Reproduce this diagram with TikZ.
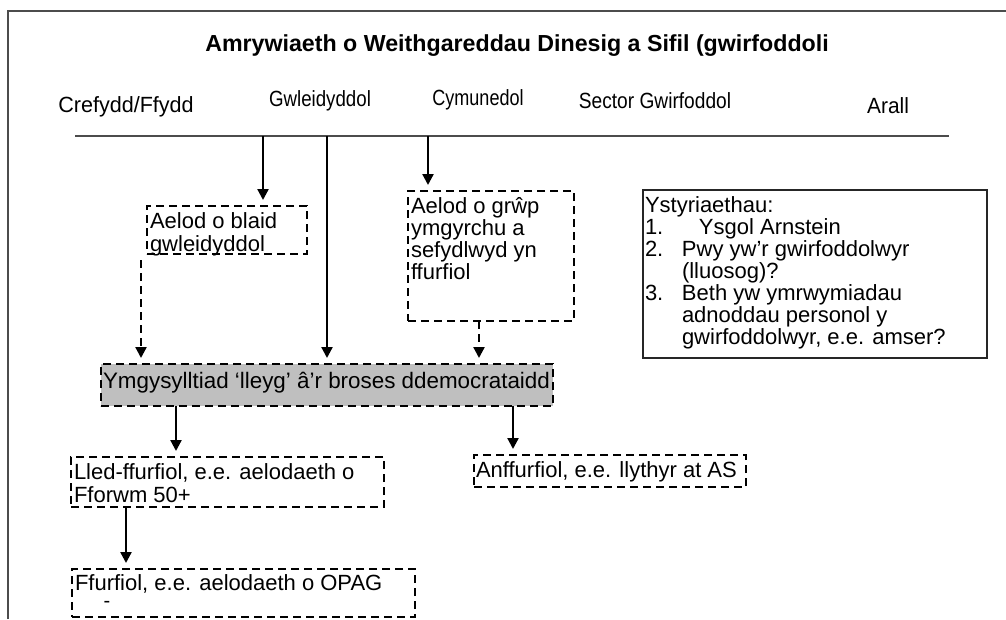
\documentclass[tikz,border=0pt]{standalone}
\usepackage{fontspec}
\usepackage{graphicx}
\setmainfont{Liberation Sans}
\usetikzlibrary{arrows.meta}
\begin{document}
\begin{tikzpicture}[x=1pt,y=-1pt,
  frameline/.style={draw=black!70, line width=2pt},
  txt/.style={font=\fontsize{22}{22.3}\selectfont, inner sep=0pt, outer sep=0pt, anchor=north west, align=left},
  cat/.style={font=\fontsize{22}{22}\selectfont, inner sep=0pt},
  dbox/.style={draw, line width=2.3pt, dash pattern=on 8pt off 5pt, inner sep=0pt, outer sep=0pt, anchor=north west},
  sbox/.style={draw=black!85, line width=1.8pt, inner sep=0pt, outer sep=0pt, anchor=north west},
  arr/.style={line width=2.3pt, -{Triangle[length=11pt,width=11pt]}, shorten >=6pt},
  darr/.style={arr, dash pattern=on 8pt off 5pt}
]
\useasboundingbox (0,0) rectangle (1006,619);
% outer frame
\coordinate (F1) at (8,619);
\coordinate (F2) at (8,11);
\coordinate (F3) at (1006,11);
\draw[frameline] (F1) -- (F2) -- (F3);
% title
\node[font=\bfseries\fontsize{23.2}{25}\selectfont, inner sep=0pt] (title) at (517,46) {Amrywiaeth o Weithgareddau Dinesig a Sifil (gwirfoddoli};
% categories
\node[cat] (c1) at (126,107) {\scalebox{0.98}[1]{Crefydd/Ffydd}};
\node[cat] (c2) at (320,101) {\scalebox{0.85}[1]{Gwleidyddol}};
\node[cat] (c3) at (478,100) {\scalebox{0.82}[1]{Cymunedol}};
\node[cat] (c4) at (655,101) {\scalebox{0.87}[1]{Sector Gwirfoddol}};
\node[cat] (c5) at (888,106) {\scalebox{0.95}[1]{Arall}};
% horizontal rule
\coordinate (L1) at (75,136);
\coordinate (L2) at (949,136);
\draw[frameline] (L1) -- (L2);
\coordinate (pA) at (263,136);
\coordinate (pB) at (327,136);
\coordinate (pC) at (428,136);
% boxes
\node[dbox, minimum width=160pt, minimum height=48pt] (b1) at (147,206) {};
\node[txt] (t1) at ([xshift=3pt,yshift=-7pt]b1.north west) {Aelod o blaid\\gwleidyddol};
\node[dbox, minimum width=166pt, minimum height=130pt] (b2) at (408,191) {};
\node[txt] (t2) at ([xshift=3pt,yshift=-6pt]b2.north west) {Aelod o grŵp\\ymgyrchu a\\sefydlwyd yn\\ffurfiol};
\node[sbox, minimum width=344pt, minimum height=168pt] (b3) at (643,190) {};
\node[txt, font=\fontsize{22}{21.9}\selectfont] (t3) at ([xshift=2pt,yshift=-7pt]b3.north west) {Ystyriaethau:\\
\makebox[37pt][l]{1.}\hspace{17pt}Ysgol Arnstein\\
\makebox[37pt][l]{2.}Pwy yw’r gwirfoddolwyr\\
\hspace*{37pt}(lluosog)?\\
\makebox[37pt][l]{3.}Beth yw ymrwymiadau\\
\hspace*{37pt}adnoddau personol y\\
\hspace*{37pt}gwirfoddolwyr, e.e. amser?};
\node[dbox, fill=black!25, minimum width=452pt, minimum height=42pt] (g) at (101,364) {};
\node[txt, font=\fontsize{22.4}{22.4}\selectfont] (tg) at ([xshift=2pt,yshift=-8pt]g.north west) {Ymgysylltiad ‘lleyg’ â’r broses ddemocrataidd};
\node[dbox, minimum width=313pt, minimum height=50pt] (b4) at (71,457) {};
\node[txt] (t4) at ([xshift=3pt,yshift=-7pt]b4.north west) {Lled-ffurfiol, e.e. aelodaeth o\\Fforwm 50+};
\node[dbox, minimum width=272pt, minimum height=32pt] (b5) at (474,455) {};
\node[txt] (t5) at ([xshift=2pt,yshift=-7pt]b5.north west) {Anffurfiol, e.e. llythyr at AS};
\node[dbox, minimum width=343pt, minimum height=48pt] (b6) at (72,569) {};
\node[txt] (t6) at ([xshift=3pt,yshift=-6pt]b6.north west) {Ffurfiol, e.e. aelodaeth o OPAG};
\node[font=\fontsize{20}{22}\selectfont, inner sep=0pt] (dash) at (107,604) {-};
% connectors
\draw[arr] (pA) -- (pA |- b1.north);
\draw[arr] (pB) -- (pB |- g.north);
\draw[arr] (pC) -- (pC |- b2.north);
\coordinate (dS) at (141,260);
\draw[darr] (dS) -- (dS |- g.north);
\coordinate (dR) at (479,321);
\draw[darr] (dR) -- (dR |- g.north);
\coordinate (gA) at (176,406);
\draw[arr] (gA) -- (gA |- b4.north);
\coordinate (gB) at (513,406);
\draw[arr] (gB) -- (gB |- b5.north);
\coordinate (lA) at (126,507);
\draw[arr] (lA) -- (lA |- b6.north);
\end{tikzpicture}
\end{document}
